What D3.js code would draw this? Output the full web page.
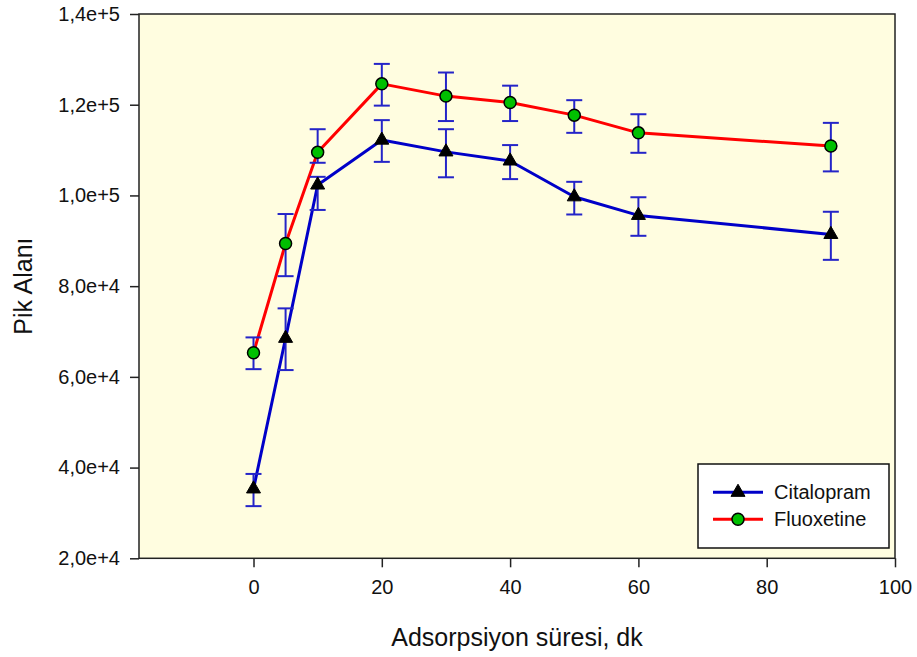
<!DOCTYPE html>
<html>
<head>
<meta charset="utf-8">
<script src="https://cdn.jsdelivr.net/npm/d3@7"></script>
<style>
  html, body { margin: 0; padding: 0; background: #fff; }
  svg { display: block; font-family: "Liberation Sans", Arial, sans-serif; }
</style>
</head>
<body>
<svg id="chart" width="917" height="657"></svg>
<script>
// ---- data ----
const times = [0, 5, 10, 20, 30, 40, 50, 60, 90];
const citalopram      = [35300, 68500, 102300, 112200, 109600, 107600, 99700, 95600, 91400];
const citalopramHigh  = [38600, 75100, 104100, 116600, 114600, 111100, 103000, 99600, 96400];
const citalopramLow   = [31500, 61500, 96800, 107400, 104000, 103600, 95800, 91100, 85800];
const fluoxetine      = [65300, 89400, 109500, 124600, 121900, 120500, 117700, 113800, 110900];
const fluoxetineHigh  = [68700, 95900, 114600, 129000, 127100, 124200, 121000, 117900, 116000];
const fluoxetineLow   = [61700, 82200, 107200, 119800, 116400, 116400, 113800, 109400, 105300];
const xTicks = [0, 20, 40, 60, 80, 100];
const yTicks = [20000, 40000, 60000, 80000, 100000, 120000, 140000];
const seriesNames = ["Citalopram", "Fluoxetine"];
const xTitle = "Adsorpsiyon süresi, dk";
const yTitle = "Pik Alanı";

// ---- layout ----
const svg = d3.select("#chart");
const L = 139, R = 895, T = 14, B = 558.3;
const x = d3.scaleLinear().domain([-17.85, 100]).range([L, R]);
const y = d3.scaleLinear().domain([20000, 140000]).range([B, T]);

const fmtY = v => {
  const e = Math.floor(Math.log10(v));
  const m = v / Math.pow(10, e);
  return m.toFixed(1).replace(".", ",") + "e+" + e;
};

// background
svg.append("rect").attr("x", L).attr("y", T).attr("width", R - L).attr("height", B - T)
  .attr("fill", "#fffde0");

// series
const series = [
  { name: seriesNames[0], vals: citalopram, hi: citalopramHigh, lo: citalopramLow, color: "#0000c8", marker: "tri" },
  { name: seriesNames[1], vals: fluoxetine, hi: fluoxetineHigh, lo: fluoxetineLow, color: "#ff0000", marker: "circ" }
];
const errColor = "#2424c8";

const line = d3.line().x(d => x(d[0])).y(d => y(d[1]));
series.forEach(s => {
  svg.append("path")
    .datum(times.map((t, i) => [t, s.vals[i]]))
    .attr("d", line)
    .attr("fill", "none")
    .attr("stroke", s.color)
    .attr("stroke-width", 3)
    .attr("stroke-linejoin", "round");
});

// error bars
series.forEach(s => {
  const g = svg.append("g").attr("stroke", errColor).attr("stroke-width", 2);
  times.forEach((t, i) => {
    const cx = x(t);
    g.append("line").attr("x1", cx).attr("x2", cx).attr("y1", y(s.hi[i])).attr("y2", y(s.lo[i]));
    g.append("line").attr("x1", cx - 8).attr("x2", cx + 8).attr("y1", y(s.hi[i])).attr("y2", y(s.hi[i]));
    g.append("line").attr("x1", cx - 8).attr("x2", cx + 8).attr("y1", y(s.lo[i])).attr("y2", y(s.lo[i]));
  });
});

const tri = d3.symbol().type(d3.symbolTriangle).size(85);
function drawMarker(g, type, cx, cy) {
  if (type === "tri") {
    g.append("path").attr("d", tri()).attr("transform", `translate(${cx},${cy})`)
      .attr("fill", "#000").attr("stroke", "#000").attr("stroke-width", 1);
  } else {
    g.append("circle").attr("cx", cx).attr("cy", cy).attr("r", 6)
      .attr("fill", "#00c000").attr("stroke", "#000").attr("stroke-width", 1.5);
  }
}
series.forEach(s => {
  const g = svg.append("g");
  times.forEach((t, i) => drawMarker(g, s.marker, x(t), y(s.vals[i])));
});

// frame
svg.append("rect").attr("x", L).attr("y", T).attr("width", R - L).attr("height", B - T)
  .attr("fill", "none").attr("stroke", "#222").attr("stroke-width", 1.5);

// axes
const yAxis = d3.axisLeft(y).tickValues(yTicks).tickFormat(fmtY).tickSize(9).tickPadding(10);
const ga = svg.append("g").attr("transform", `translate(${L},0)`).call(yAxis);
ga.select(".domain").remove();
ga.selectAll("line").attr("stroke", "#222").attr("stroke-width", 1.5);
ga.selectAll("text").attr("font-size", 20).attr("fill", "#111")
  .attr("font-family", "'Liberation Sans', Arial, sans-serif");

const xAxis = d3.axisBottom(x).tickValues(xTicks).tickFormat(d3.format("d")).tickSize(9).tickPadding(13);
const gx = svg.append("g").attr("transform", `translate(0,${B})`).call(xAxis);
gx.select(".domain").remove();
gx.selectAll("line").attr("stroke", "#222").attr("stroke-width", 1.5);
gx.selectAll("text").attr("font-size", 20).attr("fill", "#111")
  .attr("font-family", "'Liberation Sans', Arial, sans-serif");

// titles
svg.append("text").attr("x", (L + R) / 2).attr("y", 646).attr("text-anchor", "middle")
  .attr("font-size", 25).attr("fill", "#111").text(xTitle);
svg.append("text").attr("transform", `translate(32,${(T + B) / 2}) rotate(-90)`)
  .attr("text-anchor", "middle").attr("font-size", 25).attr("fill", "#111").text(yTitle);

// legend
const lg = svg.append("g");
lg.append("rect").attr("x", 698).attr("y", 464).attr("width", 191).attr("height", 84)
  .attr("fill", "#fff").attr("stroke", "#111").attr("stroke-width", 1.5);
series.forEach((s, i) => {
  const cy = 492.3 + i * 27;
  lg.append("line").attr("x1", 713).attr("x2", 763).attr("y1", cy).attr("y2", cy)
    .attr("stroke", s.color).attr("stroke-width", 3);
  drawMarker(lg, s.marker, 738, cy);
  lg.append("text").attr("x", 774).attr("y", cy + 7).attr("font-size", 20).attr("fill", "#111").text(s.name);
});
</script>
</body>
</html>
